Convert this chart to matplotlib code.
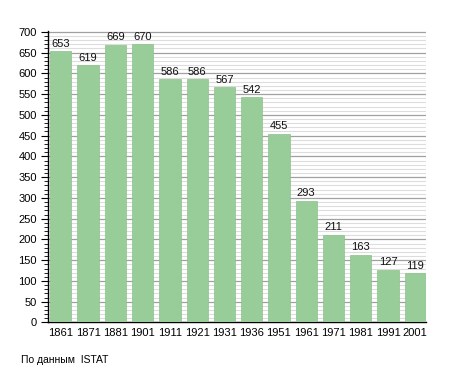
import matplotlib
matplotlib.use("Agg")
import matplotlib.pyplot as plt
from matplotlib.ticker import MultipleLocator

years = ["1861", "1871", "1881", "1901", "1911", "1921", "1931",
         "1936", "1951", "1961", "1971", "1981", "1991", "2001"]
population = [653, 619, 669, 670, 586, 586, 567, 542, 455, 293, 211, 163, 127, 119]

plt.rcParams["font.family"] = ["Liberation Sans", "DejaVu Sans"]

fig = plt.figure(figsize=(4.55, 3.73), dpi=100)
ax = fig.add_axes([0.1055, 0.1354, 0.8305, 0.7815])

x = range(len(years))
ax.bar(x, population, width=0.78, color="#98cc98", edgecolor="#8cc28c", linewidth=0.5, zorder=3)
for xi, v in zip(x, population):
    ax.text(xi, v + 6, str(v), ha="center", va="bottom", fontsize=8, color="#111111", zorder=4)

ax.set_xlim(-0.47, 13.39)
ax.set_ylim(0, 702)
ax.set_xticks(list(x))
ax.set_xticklabels(years, fontsize=8)
ax.yaxis.set_major_locator(MultipleLocator(50))
ax.yaxis.set_minor_locator(MultipleLocator(10))
ax.tick_params(axis="y", which="major", length=5, width=0.8, labelsize=8, pad=3)
ax.tick_params(axis="y", which="minor", length=3, width=0.6)
ax.tick_params(axis="x", length=0, pad=4)

ax.grid(axis="y", which="major", color="#a0a0a0", linewidth=0.9, zorder=0)
ax.grid(axis="y", which="minor", color="#dddddd", linewidth=0.8, zorder=0)
ax.set_axisbelow(True)

for side in ["top", "right"]:
    ax.spines[side].set_visible(False)
ax.spines["left"].set_linewidth(1.0)
ax.spines["bottom"].set_linewidth(1.0)

fig.text(0.046, 0.022, "По данным  ISTAT", fontsize=7.5, ha="left", va="bottom")

fig.savefig("out.png", dpi=100)
